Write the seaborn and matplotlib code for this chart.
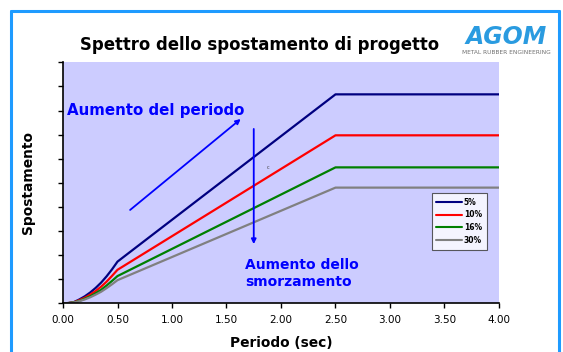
import numpy as np
import pandas as pd
import matplotlib
matplotlib.use("Agg")
import matplotlib.pyplot as plt
import seaborn as sns
from matplotlib.lines import Line2D

# Periods (s) and displacement ordinates for each damping ratio
periodo = [0.0, 0.05, 0.10, 0.15, 0.20, 0.25, 0.30, 0.35, 0.40, 0.45, 0.50, 2.50, 4.00]
sd_5 = [0.0, 0.1, 0.5, 1.6, 2.9, 4.5, 6.4, 8.6, 11.2, 14.1, 17.3, 86.7, 86.7]
sd_10 = [0.0, 0.1, 0.45, 1.3, 2.3, 3.6, 5.1, 6.9, 9.0, 11.4, 13.9, 69.7, 69.7]
sd_16 = [0.0, 0.1, 0.4, 1.0, 1.9, 2.9, 4.2, 5.6, 7.4, 9.3, 11.3, 56.4, 56.4]
sd_30 = [0.0, 0.1, 0.35, 0.9, 1.6, 2.5, 3.6, 4.8, 6.3, 7.9, 9.6, 48.0, 48.0]
smorzamento = ["5%", "10%", "16%", "30%"]
colori = ["#000080", "#FF0000", "#008000", "#808080"]
xtick_vals = [0.0, 0.5, 1.0, 1.5, 2.0, 2.5, 3.0, 3.5, 4.0]

df = pd.concat(
    [pd.DataFrame({"T": periodo, "Sd": s, "xi": lab})
     for s, lab in zip([sd_5, sd_10, sd_16, sd_30], smorzamento)],
    ignore_index=True,
)

sns.set_style("ticks")
plt.rcParams["font.family"] = ["DejaVu Sans"]
plt.rcParams["text.color"] = "black"
plt.rcParams["axes.labelcolor"] = "black"
plt.rcParams["xtick.color"] = "black"
plt.rcParams["ytick.color"] = "black"

W, H = 563, 352
fig = plt.figure(figsize=(W / 100, H / 100), dpi=100)
ax = fig.add_axes([63 / W, 1 - 303.3 / H, 436 / W, 241 / H])
ax.set_facecolor("#CCCCFF")

sns.lineplot(data=df, x="T", y="Sd", hue="xi", palette=dict(zip(smorzamento, colori)),
             linewidth=1.6, ax=ax, legend=False)

ax.set_xlim(0, 4)
ax.set_ylim(0, 100)
ax.set_xticks(xtick_vals)
ax.set_xticklabels([f"{v:.2f}" for v in xtick_vals], fontsize=7.5)
ax.set_yticks(np.arange(0, 101, 10))
ax.set_yticklabels([])
ax.tick_params(axis="both", direction="out", length=3.5, width=1, color="black", pad=5)
for s in ["top", "right"]:
    ax.spines[s].set_visible(False)
for s in ["left", "bottom"]:
    ax.spines[s].set_color("black")
    ax.spines[s].set_linewidth(1.2)

ax.set_xlabel("Periodo (sec)", fontsize=9.9, fontweight="bold", labelpad=8)
ax.set_ylabel("Spostamento", fontsize=9.9, fontweight="bold", labelpad=12)

# Legend
handles = [Line2D([0], [0], color=c, lw=1.5) for c in colori]
leg = ax.legend(handles, smorzamento, loc="upper left", bbox_to_anchor=(0.846, 0.458),
                prop={"size": 5.5, "weight": "bold"}, frameon=True, fancybox=False,
                handlelength=3.4, handletextpad=0.2, labelspacing=0.5,
                borderpad=0.6, borderaxespad=0)
leg.get_frame().set_edgecolor("#333333")
leg.get_frame().set_linewidth(0.8)
leg.get_frame().set_facecolor("white")

# Annotations
blu = "#0000FF"
ax.text(0.035, 80.1, "Aumento del periodo", color=blu, fontsize=10.8, fontweight="bold",
        va="center", ha="left")
ax.annotate("", xy=(1.65, 77.2), xytext=(0.596, 38.0),
            arrowprops=dict(arrowstyle="-|>", color=blu, lw=1.3, mutation_scale=7))
ax.annotate("", xy=(1.75, 23.4), xytext=(1.75, 73.5),
            arrowprops=dict(arrowstyle="-|>", color=blu, lw=1.3, mutation_scale=7))
ax.text(1.67, 12.4, "Aumento dello\nsmorzamento", color=blu, fontsize=10.0, fontweight="bold",
        va="center", ha="left", linespacing=1.2)
ax.text(1.88, 56.5, "c", color="#444444", fontsize=3.5, ha="center", va="center")

# Title and logo
fig.text(260 / W, 1 - 45 / H, "Spettro dello spostamento di progetto", fontsize=11.9,
         fontweight="bold", ha="center", va="center")
fig.text(506 / W, 1 - 37 / H, "AGOM", fontsize=17, fontweight="bold", style="italic",
         color="#2A9BE0", ha="center", va="center")
fig.text(506 / W, 1 - 52 / H, "METAL RUBBER ENGINEERING", fontsize=4.2,
         color="#707070", ha="center", va="center")

# Slide frame
frame = dict(color="#1E9BFF", lw=2.2, transform=fig.transFigure, clip_on=False)
fig.add_artist(Line2D([11 / W, 11 / W], [0, 1 - 11 / H], **frame))
fig.add_artist(Line2D([11 / W, 559 / W], [1 - 11 / H, 1 - 11 / H], **frame))
fig.add_artist(Line2D([559 / W, 559 / W], [0, 1 - 11 / H], **frame))

fig.savefig("out.png", dpi=100)
